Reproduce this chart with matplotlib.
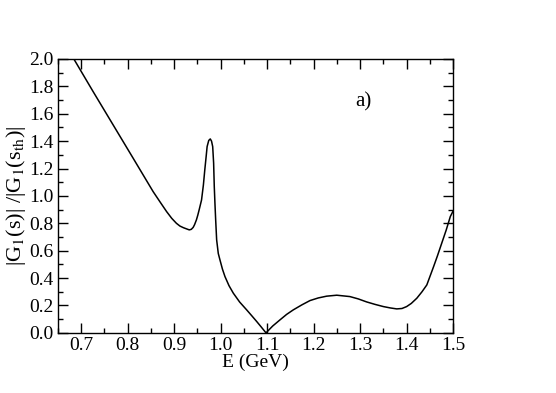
import numpy as np
import matplotlib
matplotlib.use("Agg")
import matplotlib.pyplot as plt
from matplotlib.ticker import MultipleLocator

plt.rcParams['font.family'] = ['Liberation Serif', 'DejaVu Serif']
plt.rcParams['mathtext.fontset'] = 'stix'

# Curve: energy (GeV) and ratio
E = [0.6844, 0.726, 0.769, 0.812, 0.855, 0.870, 0.884, 0.895, 0.905, 0.9125,
     0.920, 0.927, 0.9326, 0.937, 0.941, 0.944, 0.948, 0.951, 0.954, 0.959,
     0.963, 0.966, 0.969, 0.971, 0.9745, 0.9778, 0.9805, 0.983, 0.985, 0.9864,
     0.9879, 0.9894, 0.9915, 0.995, 0.9986, 1.0040, 1.0094, 1.018, 1.0273,
     1.041, 1.056, 1.067, 1.0776, 1.0876, 1.0976, 1.112, 1.1277, 1.142,
     1.1563, 1.175, 1.1923, 1.21, 1.228, 1.2497, 1.278, 1.296, 1.314, 1.332,
     1.350, 1.365, 1.3788, 1.390, 1.400, 1.410, 1.4219, 1.433, 1.4434, 1.458,
     1.466, 1.475, 1.485, 1.494, 1.50]
G = [2.000, 1.761, 1.518, 1.275, 1.031, 0.955, 0.885, 0.836, 0.800, 0.780,
     0.768, 0.759, 0.752, 0.756, 0.770, 0.790, 0.825, 0.860, 0.900, 0.970,
     1.080, 1.190, 1.290, 1.360, 1.405, 1.416, 1.400, 1.360, 1.240, 1.068,
     0.940, 0.825, 0.679, 0.580, 0.533, 0.465, 0.411, 0.345, 0.290, 0.225,
     0.168, 0.125, 0.083, 0.042, 0.000, 0.050, 0.095, 0.135, 0.168, 0.205,
     0.236, 0.255, 0.268, 0.275, 0.265, 0.248, 0.226, 0.208, 0.192, 0.182,
     0.175, 0.178, 0.192, 0.215, 0.253, 0.300, 0.350, 0.484, 0.560, 0.650,
     0.750, 0.850, 0.890]

fig = plt.figure(figsize=(5.56, 3.93), dpi=100)
ax = fig.add_axes([0.104, 0.153, 0.711, 0.697])
ax.plot(E, G, color='black', linewidth=1.1)

ax.set_xlim(0.65, 1.5)
ax.set_ylim(0.0, 2.0)
ax.xaxis.set_major_locator(MultipleLocator(0.1))
ax.xaxis.set_minor_locator(MultipleLocator(0.05))
ax.yaxis.set_major_locator(MultipleLocator(0.2))
ax.yaxis.set_minor_locator(MultipleLocator(0.1))
ax.xaxis.set_major_formatter(plt.FormatStrFormatter('%.1f'))
ax.yaxis.set_major_formatter(plt.FormatStrFormatter('%.1f'))
ax.tick_params(which='both', direction='in', top=True, right=True, labelsize=14, width=1)
ax.tick_params(which='major', length=7, pad=3)
ax.tick_params(which='minor', length=3.5)
for s in ax.spines.values():
    s.set_linewidth(1)

ax.set_xlabel('E (GeV)', fontsize=14, labelpad=0)
ax.set_ylabel(r'|G$_1$(s)| /|G$_1$(s$_{\rm th}$)|', fontsize=16, labelpad=1)
ax.text(1.306, 1.69, 'a)', fontsize=15, ha='center', va='center')

fig.savefig('out.png', dpi=100)
